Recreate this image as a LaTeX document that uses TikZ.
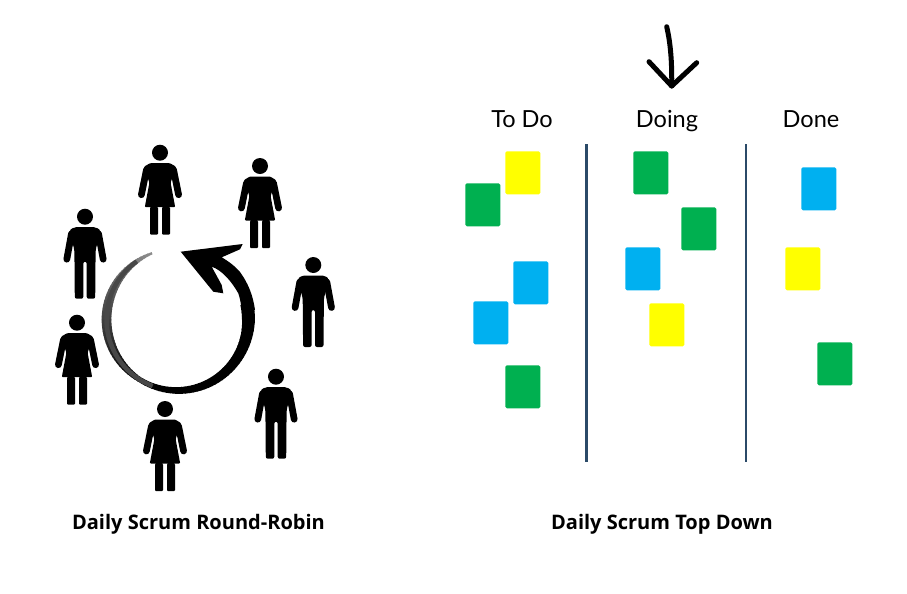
\documentclass[tikz,border=0pt]{standalone}
\usepackage{fontspec}
\setmainfont{Open Sans}
\newfontfamily\handfont{Lato}
\usepackage{tikz}
\usetikzlibrary{arrows.meta,calc}
\definecolor{cardgreen}{HTML}{00B050}
\definecolor{cardblue}{HTML}{00B0F0}
\definecolor{cardyellow}{HTML}{FFFF00}
\definecolor{rulecol}{HTML}{2B4A68}
\tikzset{capt/.style={anchor=base,font=\fontsize{11.4pt}{13pt}\selectfont\bfseries,text=black,inner sep=0pt},
  coltitle/.style={anchor=base,font=\handfont\fontsize{13.4pt}{15pt}\selectfont,text=black,inner sep=0pt},
  card/.style={anchor=north west,minimum width=0.7cm,minimum height=0.86cm,inner sep=0pt,rounded corners=0.03cm},
  limb/.style={line width=0.135cm,line cap=round,black},
  manfig/.pic={
    \fill (0,0) circle (8);
    \fill[rounded corners=0.04cm] (-11,10.5) -- (11,10.5) -- (16,14) -- (10.6,33) -- (10.2,82) -- (1.7,82) -- (1.7,45) -- (-1.7,45) -- (-1.7,82) -- (-10.2,82) -- (-10.6,33) -- (-16,14) -- cycle;
    \draw[limb] (13.5,17) -- (18.2,42.5); \draw[limb] (-13.5,17) -- (-18.2,42.5);
  },
  womanfig/.pic={
    \fill (0,0) circle (8);
    \fill[rounded corners=0.02cm] (-10,10.5) -- (10,10.5) -- (16,14) -- (10.6,30) -- (15.2,54.5) -- (2,54.5) -- (2,82) -- (10,82) -- (10,54.5) -- (2,54.5) -- (-2,54.5) -- (-10,54.5) -- (-10,82) -- (-2,82) -- (-2,54.5) -- (-15.2,54.5) -- (-10.6,30) -- (-16,14) -- cycle;
    \draw[limb] (13.5,17) -- (18.6,42); \draw[limb] (-13.5,17) -- (-18.6,42);
  }}

\begin{document}
\begin{tikzpicture}[x=0.02cm,y=-0.02cm,>=Stealth,line join=round]
\useasboundingbox (0,0) rectangle (907,593);
% --- round-robin: people around the circle
\pic (wa) at (160,152.7) {womanfig}; \pic (wb) at (260,166) {womanfig};
\pic (ma) at (313.3,265) {manfig}; \pic (mb) at (276,376.7) {manfig};
\pic (wc) at (165,409) {womanfig}; \pic (wd) at (77,322.7) {womanfig};
\pic (mc) at (85,216.7) {manfig};
% --- brush circle, pale at its start
\foreach \a in {111,114,...,369} {
  \pgfmathsetmacro{\t}{min(1,(\a-111)/249)}
  \pgfmathsetmacro{\w}{0.05+0.21*\t*\t+0.13*sin(180*min(\t*2,1))}
  \pgfmathsetmacro{\k}{min(100,45+110*\t)}
  \draw[black!\k,line width=\w cm] ({177.5+71*cos(\a)},{319.5-71*sin(\a)}) -- ({177.5+71*cos(\a+3.6)},{319.5-71*sin(\a+3.6)});
}
\foreach \a in {125,129,...,245} {
  \draw[black!72,line width=0.09cm] ({177.5+71*cos(\a)},{319.5-71*sin(\a)}) -- ({177.5+71*cos(\a+4.5)},{319.5-71*sin(\a+4.5)});
}
\fill (255,310) .. controls (253,295) and (248,283) .. (240,272) .. controls (235,266) and (228,261) .. (221.7,257.3) -- (240,249.3) -- (242.7,244) -- (180.7,251.7) -- (213.3,291.7) -- (223.3,293.3) -- (221.7,285) -- (211.7,266.7) .. controls (222,270) and (232,282) .. (238.3,293.3) .. controls (240,298) and (241,304) .. (241.7,310) -- cycle;
\node[capt] (capta) at (198.5,529) {Daily Scrum Round-Robin};
% --- top down: board with three columns
\draw[black,line width=0.1cm,line cap=round] (666.7,26.7) .. controls (671,45) and (672,65) .. (671.7,86);
\draw[black,line width=0.1cm,line cap=round] (649,61.7) -- (671.7,86) -- (696.7,62.7);
\node[coltitle] (todo) at (522,127) {To Do};
\node[coltitle] (doing) at (667,127) {Doing};
\node[coltitle] (done) at (811,127) {Done};
\draw[rulecol,line width=0.05cm] (586.5,144) -- (586.5,462); \draw[rulecol,line width=0.05cm] (746,144) -- (746,462);
\node[card,fill=cardyellow] (ca) at (505,151) {}; \node[card,fill=cardgreen] (cb) at (465,183) {};
\node[card,fill=cardblue] (cc) at (513,261) {}; \node[card,fill=cardblue] (cd) at (473,301) {};
\node[card,fill=cardgreen] (ce) at (505,365) {};
\node[card,fill=cardgreen] (da) at (633,151) {}; \node[card,fill=cardgreen] (db) at (681,207) {};
\node[card,fill=cardblue] (dc) at (625,247) {}; \node[card,fill=cardyellow] (dd) at (649,303) {};
\node[card,fill=cardblue] (ea) at (801,167) {}; \node[card,fill=cardyellow] (eb) at (785,247) {};
\node[card,fill=cardgreen] (ec) at (817,342) {};
\node[capt] (captb) at (662,529) {Daily Scrum Top Down};
\end{tikzpicture}
\end{document}
